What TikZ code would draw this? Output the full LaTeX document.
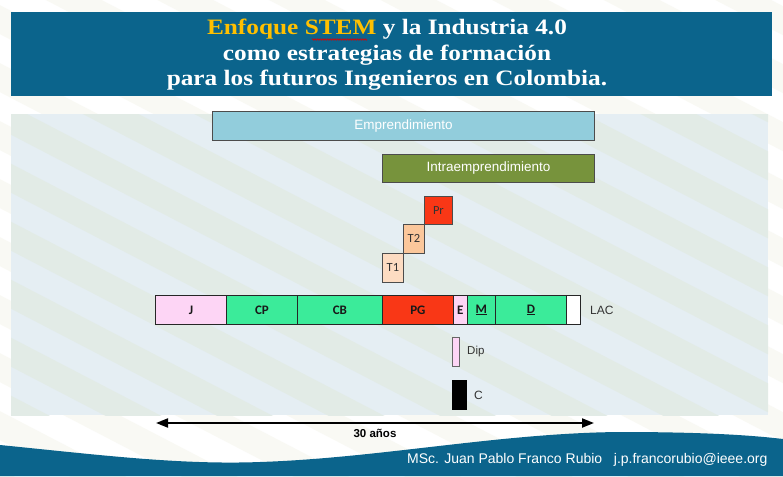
\documentclass[tikz,border=0pt]{standalone}
\usepackage{fontspec}
\setmainfont{Liberation Sans}
\newfontfamily\titlefont[FakeStretch=1.15]{Liberation Serif}
\newfontfamily\calfont{Carlito}
\usetikzlibrary{arrows.meta,decorations.pathmorphing}
\definecolor{titleblue}{HTML}{0B648C}
\definecolor{outerstripe}{HTML}{F9F9F4}
\definecolor{panelbase}{HTML}{E5EEF3}
\definecolor{panelstripe}{HTML}{E2EBE6}
\definecolor{emprc}{HTML}{92CDDC}
\definecolor{intrac}{HTML}{77933C}
\definecolor{redc}{HTML}{F93716}
\definecolor{peachA}{HTML}{FBC79B}
\definecolor{peachB}{HTML}{FDDCC2}
\definecolor{pinkc}{HTML}{FDD5F5}
\definecolor{greenc}{HTML}{3BEB9A}
\definecolor{titleyellow}{HTML}{FFC000}
\definecolor{labelgrey}{HTML}{333333}
\begin{document}
\begin{tikzpicture}[x=1pt,y=-1pt,
  bx/.style={draw=black!85, line width=0.8pt, inner sep=0pt, anchor=north west},
  barlabel/.style={font=\calfont\bfseries\fontsize{13}{15}\selectfont, text=black!90},
  smalllabel/.style={font=\calfont\fontsize{12.5}{14}\selectfont, text=labelgrey},
  sidelabel/.style={font=\fontsize{11.5}{13}\selectfont, text=labelgrey, inner sep=0pt, anchor=west},
  bigwhite/.style={font=\fontsize{13.5}{16}\selectfont, text=white}]
\useasboundingbox (0,0) rectangle (783,476);
\fill[white] (0,0) rectangle (783,476);
\begin{scope}
  \clip (0,0) rectangle (783,476);
  \foreach \k in {-16,...,10} {
    \fill[outerstripe] (-10,\k*58) -- (800,\k*58+421) -- (800,\k*58+450) -- (-10,\k*58+29) -- cycle;
  }
\end{scope}
% panel
\fill[panelbase] (11,114) rectangle (768,415);
\begin{scope}
  \clip (11,114) rectangle (768,415);
  \foreach \k in {-16,...,10} {
    \fill[panelstripe] (0,\k*58+100) -- (800,\k*58+516) -- (800,\k*58+545) -- (0,\k*58+129) -- cycle;
  }
\end{scope}
% title
\fill[titleblue] (11,12) rectangle (772,96);
\node[text=white, align=center, inner sep=0pt, anchor=base,
  font=\titlefont\bfseries\fontsize{22}{25.5}\selectfont] (title) at (387,86)
  {\textcolor{titleyellow}{Enfoque STEM} y la Industria 4.0\\como estrategias de formación\\para los futuros Ingenieros en Colombia.};
\draw[red!85!black, line width=0.7pt, decorate, decoration={zigzag, segment length=2.5pt, amplitude=0.7pt}] (312,39.5) -- (367,39.5);
% footer wave
\fill[titleblue] (0,445) .. controls (100,455) and (180,465) .. (260,462)
  .. controls (380,458) and (500,433) .. (620,432)
  .. controls (700,432) and (750,435) .. (783,439) -- (783,476) -- (0,476) -- cycle;
\node[anchor=base west, inner sep=0pt, text=white, font=\fontsize{14}{16}\selectfont] (footer) at (407,463)
  {MSc. Juan Pablo Franco Rubio\ \ \ j.p.francorubio@ieee.org};
% top bars
\node[bx, draw=black!70, fill=emprc, minimum width=382pt, minimum height=29pt] (empr) at (212,111) {};
\node[bigwhite] at (empr.center) {Emprendimiento};
\node[bx, draw=black!70, fill=intrac, minimum width=212pt, minimum height=28pt] (intra) at (382,154) {};
\node[bigwhite] at (intra.center) {Intraemprendimiento};
% stairs
\node[bx, draw=black!70, fill=redc, minimum width=28pt, minimum height=28pt, smalllabel] (Pr) at (424,196) {Pr};
\node[bx, draw=black!70, fill=peachA, minimum width=21pt, minimum height=29pt, smalllabel] (T2) at (403,224) {T2};
\node[bx, draw=black!70, fill=peachB, minimum width=21pt, minimum height=29pt, smalllabel] (T1) at (382,253) {T1};
% LAC bar
\node[bx, fill=pinkc, minimum width=71pt, minimum height=29pt, barlabel] (J) at (155,295) {J};
\node[bx, fill=greenc, minimum width=71pt, minimum height=29pt, barlabel] (CP) at (226,295) {CP};
\node[bx, fill=greenc, minimum width=85pt, minimum height=29pt, barlabel] (CB) at (297,295) {CB};
\node[bx, fill=redc, minimum width=71pt, minimum height=29pt, barlabel] (PG) at (382,295) {PG};
\node[bx, fill=pinkc, minimum width=14pt, minimum height=29pt, barlabel] (E) at (453,295) {E};
\node[bx, fill=greenc, minimum width=28pt, minimum height=29pt, barlabel] (M) at (467,295) {\underline{M}};
\node[bx, fill=greenc, minimum width=71pt, minimum height=29pt, barlabel] (D) at (495,295) {\underline{D}};
\node[bx, fill=white, minimum width=14pt, minimum height=29pt] (W) at (566,295) {};
\node[sidelabel, font=\fontsize{12}{14}\selectfont] (LAC) at (590,310) {LAC};
% Dip and C
\node[bx, draw=black!60, fill=pinkc, minimum width=7pt, minimum height=29pt] (Dip) at (452,337) {};
\node[sidelabel] (Diplabel) at (467,352) {Dip};
\node[bx, draw=black, fill=black, minimum width=14pt, minimum height=29pt] (C) at (452,380) {};
\node[sidelabel, font=\fontsize{12}{14}\selectfont] (Clabel) at (474,395) {C};
% arrow
\coordinate (aL) at (156,423);
\coordinate (aR) at (594,423);
\draw[line width=2pt, {Triangle[length=12pt,width=9pt]}-{Triangle[length=12pt,width=9pt]}] (aL) -- (aR);
\node[anchor=base, inner sep=0pt, font=\bfseries\fontsize{11.5}{13}\selectfont] (years) at (375,437) {30 años};
\end{tikzpicture}
\end{document}
